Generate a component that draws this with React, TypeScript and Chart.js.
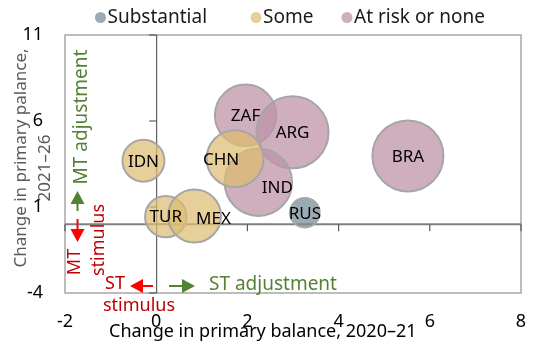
import React, { useEffect, useRef } from 'react';
import { Chart, registerables } from 'chart.js';

Chart.register(...registerables);

// ---------- data ----------
const seriesNames = ['Substantial', 'Some', 'At risk or none'];

const substantialCountries = ['RUS'];
const substantialX = [3.26];
const substantialY = [0.67];
const substantialSize = [14.8];

const someCountries = ['IDN', 'TUR', 'MEX', 'CHN'];
const someX = [-0.28, 0.21, 0.84, 1.73];
const someY = [3.69, 0.44, 0.48, 3.81];
const someSize = [21, 20.7, 26.5, 28.5];

const riskCountries = ['ZAF', 'ARG', 'IND', 'BRA'];
const riskX = [1.96, 2.99, 2.24, 5.52];
const riskY = [6.33, 5.34, 2.44, 3.97];
const riskSize = [30.7, 36, 33.7, 35.5];

const xMin = -2, xMax = 8, xStep = 2;
const yMin = -4, yMax = 11, yStep = 5;

const xTitle = 'Change in primary balance, 2020\u201321';
const yTitleLines = ['Change in primary palance,', '2021\u201326'];

// ---------- styles ----------
const FONT = "'Noto Sans', 'Open Sans', sans-serif";
const colors = ['rgba(120,143,156,0.75)', 'rgba(220,188,112,0.72)', 'rgba(191,147,168,0.75)'];
const labelOffsets: Record<string, [number, number]> = { MEX: [19, 2], IND: [19, 5], CHN: [-14, 0] };
const legendAnchors = [100.5, 256, 347];
const GREEN = '#548235';
const RED_TXT = '#c00000';
const RED_ARR = '#ff0000';

function build(names: string[], xs: number[], ys: number[], rs: number[]) {
  return xs.map((x, i) => ({ x, y: ys[i], r: rs[i], label: names[i] }));
}

function arrow(ctx: CanvasRenderingContext2D, x1: number, y1: number, x2: number, y2: number, color: string) {
  const ang = Math.atan2(y2 - y1, x2 - x1);
  const head = 13, half = 7;
  const bx = x2 - Math.cos(ang) * head, by = y2 - Math.sin(ang) * head;
  ctx.strokeStyle = color;
  ctx.fillStyle = color;
  ctx.lineWidth = 2;
  ctx.beginPath();
  ctx.moveTo(x1, y1);
  ctx.lineTo(bx, by);
  ctx.stroke();
  ctx.beginPath();
  ctx.moveTo(x2, y2);
  ctx.lineTo(bx + Math.sin(ang) * half, by - Math.cos(ang) * half);
  ctx.lineTo(bx - Math.sin(ang) * half, by + Math.cos(ang) * half);
  ctx.closePath();
  ctx.fill();
}

function vText(ctx: CanvasRenderingContext2D, text: string, cx: number, cy: number) {
  ctx.save();
  ctx.translate(cx, cy);
  ctx.rotate(-Math.PI / 2);
  ctx.textAlign = 'center';
  ctx.textBaseline = 'middle';
  ctx.fillText(text, 0, 0);
  ctx.restore();
}

function noPad(s: any) {
  s.paddingLeft = 0;
  s.paddingRight = 0;
  s.paddingTop = 0;
  s.paddingBottom = 0;
}

const overlayPlugin = {
  id: 'overlay',
  beforeDatasetsDraw(chart: any) {
    const { ctx, chartArea: a, scales } = chart;
    const xs = scales.x, ys = scales.y;
    ctx.save();
    ctx.strokeStyle = '#a6a6a6';
    ctx.lineWidth = 1.5;
    ctx.strokeRect(a.left, a.top, a.right - a.left, a.bottom - a.top);
    const x0 = xs.getPixelForValue(0);
    const y0 = ys.getPixelForValue(0);
    ctx.strokeStyle = '#7f7f7f';
    ctx.lineWidth = 2;
    ctx.beginPath();
    ctx.moveTo(a.left, y0);
    ctx.lineTo(a.right, y0);
    ctx.stroke();
    ctx.lineWidth = 1.2;
    ctx.strokeStyle = '#595959';
    for (let v = xMin; v <= xMax; v += xStep) {
      if (v === 0) continue;
      const px = xs.getPixelForValue(v);
      ctx.beginPath();
      ctx.moveTo(px, y0);
      ctx.lineTo(px, y0 + 7);
      ctx.stroke();
    }
    ctx.strokeStyle = '#404040';
    ctx.lineWidth = 1;
    ctx.beginPath();
    ctx.moveTo(x0 + 0.5, a.top);
    ctx.lineTo(x0 + 0.5, a.bottom);
    ctx.stroke();
    for (let v = yMin; v <= yMax; v += yStep) {
      const py = ys.getPixelForValue(v);
      ctx.beginPath();
      ctx.moveTo(x0 - 7, py);
      ctx.lineTo(x0, py);
      ctx.stroke();
    }
    ctx.restore();
  },
  afterDatasetsDraw(chart: any) {
    const { ctx } = chart;
    ctx.save();
    ctx.font = `17px ${FONT}`;
    ctx.fillStyle = '#000';
    ctx.textAlign = 'center';
    ctx.textBaseline = 'middle';
    chart.data.datasets.forEach((ds: any, di: number) => {
      const meta = chart.getDatasetMeta(di);
      meta.data.forEach((el: any, i: number) => {
        const lab = ds.data[i].label;
        const off = labelOffsets[lab] || [0, 0];
        ctx.fillText(lab, el.x + off[0], el.y + off[1] + 1);
      });
    });
    ctx.restore();
  },
  afterDraw(chart: any) {
    const { ctx } = chart;
    ctx.save();
    ctx.textBaseline = 'middle';
    ctx.textAlign = 'left';
    ctx.font = `19px ${FONT}`;
    seriesNames.forEach((name, i) => {
      const cx = legendAnchors[i];
      ctx.fillStyle = colors[i];
      ctx.beginPath();
      ctx.arc(cx, 17.5, 5.5, 0, Math.PI * 2);
      ctx.fill();
      ctx.fillStyle = '#1a1a1a';
      ctx.fillText(name, cx + 7, 18);
    });
    ctx.fillStyle = '#000';
    ctx.font = `18px ${FONT}`;
    ctx.fillText(xTitle, 109, 332);
    ctx.fillStyle = '#595959';
    ctx.font = `17px ${FONT}`;
    vText(ctx, yTitleLines[0], 21, 158);
    vText(ctx, yTitleLines[1], 45, 168);
    ctx.fillStyle = GREEN;
    ctx.font = `19px ${FONT}`;
    vText(ctx, 'MT adjustment', 82, 117);
    arrow(ctx, 77.5, 211, 77.5, 191, GREEN);
    ctx.textAlign = 'left';
    ctx.textBaseline = 'middle';
    ctx.fillText('ST adjustment', 209, 285);
    arrow(ctx, 169, 286, 195, 286, GREEN);
    arrow(ctx, 77.5, 219, 77.5, 242, RED_ARR);
    arrow(ctx, 153, 286, 130, 286, RED_ARR);
    ctx.fillStyle = RED_TXT;
    ctx.font = `18px ${FONT}`;
    vText(ctx, 'MT', 75, 262);
    vText(ctx, 'stimulus', 99, 240);
    ctx.textAlign = 'center';
    ctx.textBaseline = 'middle';
    ctx.fillText('ST', 115, 284);
    ctx.fillText('stimulus', 139, 306);
    ctx.restore();
  },
};

export default function App() {
  const ref = useRef<HTMLCanvasElement | null>(null);
  useEffect(() => {
    if (!ref.current) return;
    const chart = new Chart(ref.current, {
      type: 'bubble',
      data: {
        datasets: [
          {
            label: seriesNames[0],
            data: build(substantialCountries, substantialX, substantialY, substantialSize),
            backgroundColor: colors[0],
            borderColor: '#a6a6a6',
            borderWidth: 2,
          },
          {
            label: seriesNames[1],
            data: build(someCountries, someX, someY, someSize),
            backgroundColor: colors[1],
            borderColor: '#a6a6a6',
            borderWidth: 2,
          },
          {
            label: seriesNames[2],
            data: build(riskCountries, riskX, riskY, riskSize),
            backgroundColor: colors[2],
            borderColor: '#a6a6a6',
            borderWidth: 2,
          },
        ],
      },
      options: {
        animation: false,
        responsive: true,
        maintainAspectRatio: false,
        events: [],
        layout: { autoPadding: false, padding: { top: 35, left: 0, right: 31, bottom: 0 } },
        plugins: { legend: { display: false }, tooltip: { enabled: false } },
        scales: {
          x: {
            type: 'linear',
            min: xMin,
            max: xMax,
            ticks: { stepSize: xStep, color: '#000', font: { family: FONT, size: 18 }, padding: 18 },
            grid: { display: false, drawTicks: false },
            border: { display: false },
            afterFit: (s: any) => { s.height = 58; noPad(s); },
          },
          y: {
            type: 'linear',
            min: yMin,
            max: yMax,
            ticks: { stepSize: yStep, color: '#000', font: { family: FONT, size: 18 }, padding: 22 },
            grid: { display: false, drawTicks: false },
            border: { display: false },
            afterFit: (s: any) => { s.width = 65; noPad(s); },
          },
        },
      },
      plugins: [overlayPlugin],
    });
    return () => chart.destroy();
  }, []);
  return (
    <div style={{ position: 'absolute', left: 0, top: 0, width: 552, height: 351, background: '#fff' }}>
      <canvas ref={ref} />
    </div>
  );
}
